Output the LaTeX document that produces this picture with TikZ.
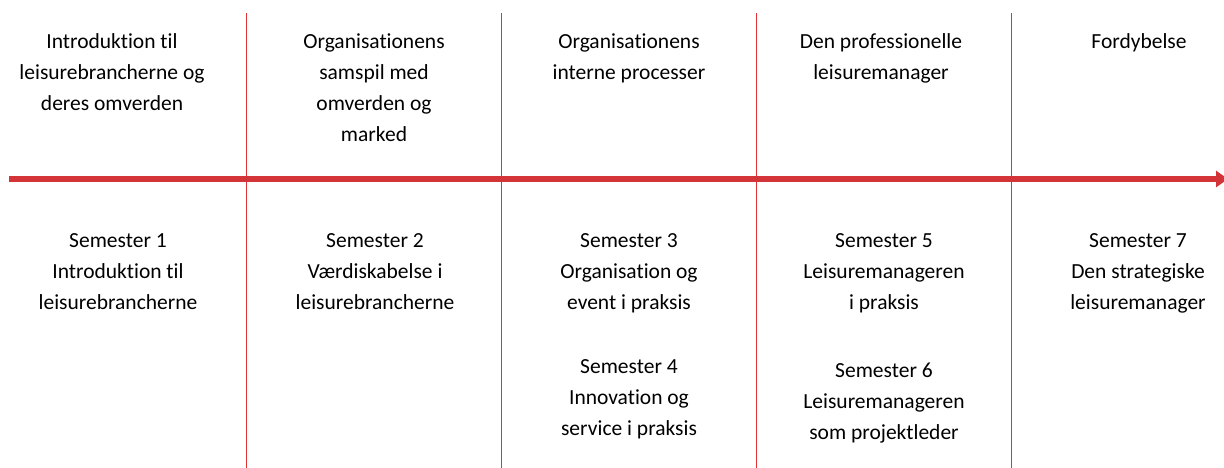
\documentclass[tikz,border=0pt]{standalone}
\usepackage{fontspec}
\setmainfont{Carlito}[Ligatures=NoCommon]
\usetikzlibrary{arrows.meta}
\definecolor{tlred}{RGB}{210,52,56}
\definecolor{vlred}{RGB}{224,50,52}
\tikzset{
  lbl/.style={anchor=north, inner sep=0pt, align=center, text=black,
    font=\fontsize{21.5}{31}\selectfont},
  sep/.style={draw=vlred, line width=1.5pt},
  timeline/.style={draw=tlred, line width=6pt, -{Triangle[length=12pt,width=16pt]}}
}
\begin{document}
\begin{tikzpicture}[x=1pt,y=-1pt]
\useasboundingbox (0,0) rectangle (1224,468);
% separators
\foreach \i/\x in {1/246.5,2/501.5,3/756.5,4/1011.5}{
  \coordinate (t\i) at (\x,13);
  \coordinate (b\i) at (\x,470);
  \draw[sep] (t\i) -- (b\i);
}
% timeline
\coordinate (ls) at (9,179);
\coordinate (le) at (1228,179);
\draw[timeline] (ls) -- (le);
% top row
\node[lbl] (h1) at (112,27) {\strut Introduktion til\\leisurebrancherne og\\deres omverden};
\node[lbl] (h2) at (374,27) {\strut Organisationens\\samspil med\\omverden og\\marked};
\node[lbl] (h3) at (629,27) {\strut Organisationens\\interne processer};
\node[lbl] (h4) at (881,27) {\strut Den professionelle\\leisuremanager};
\node[lbl] (h5) at (1139,27) {\strut Fordybelse};
% bottom row
\node[lbl] (s1) at (118,226) {\strut Semester 1\\Introduktion til\\leisurebrancherne};
\node[lbl] (s2) at (375,226) {\strut Semester 2\\Værdiskabelse i\\leisurebrancherne};
\node[lbl] (s3) at (629,226) {\strut Semester 3\\Organisation og\\event i praksis\\[33pt]Semester 4\\Innovation og\\service i praksis};
\node[lbl] (s4) at (884,226) {\strut Semester 5\\Leisuremanageren\\i praksis\\[37pt]Semester 6\\Leisuremanageren\\som projektleder};
\node[lbl] (s5) at (1138,226) {\strut Semester 7\\Den strategiske\\leisuremanager};
\end{tikzpicture}
\end{document}
